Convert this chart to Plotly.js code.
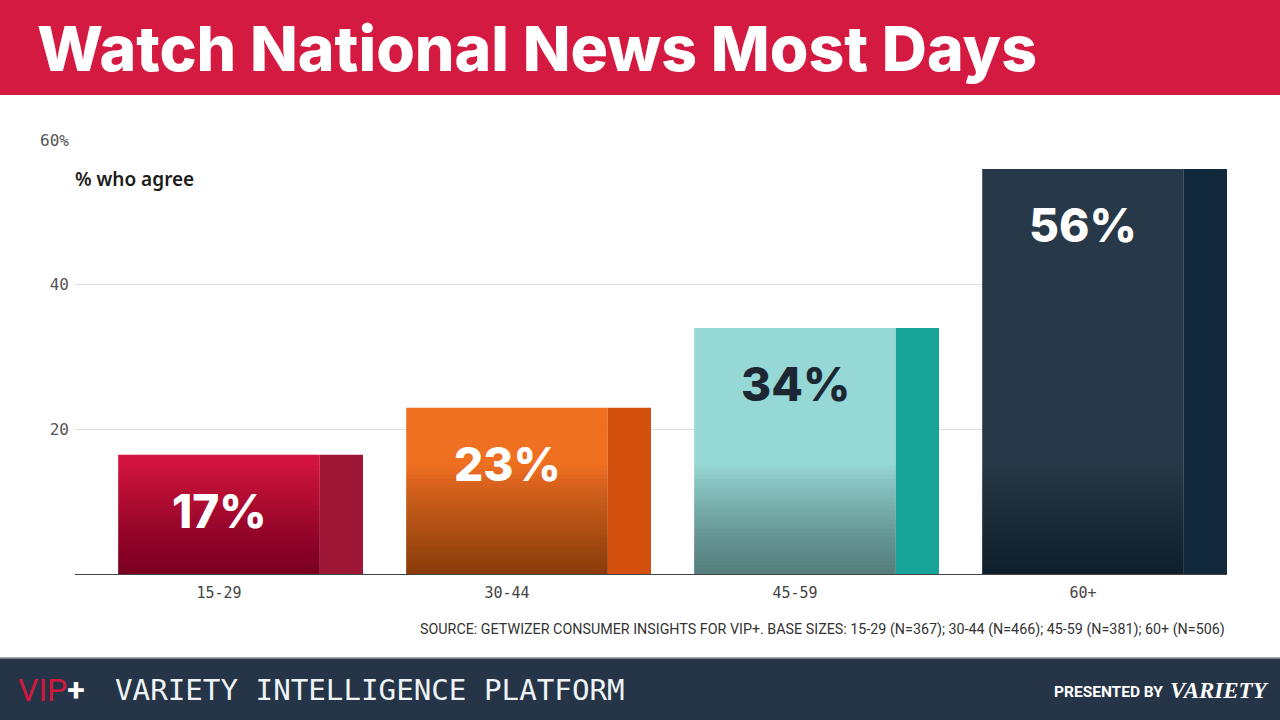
<!DOCTYPE html>
<html>
<head>
<meta charset="utf-8">
<script src="https://cdn.plot.ly/plotly-3.0.1.min.js"></script>
<style>html,body{margin:0;padding:0;background:#fff;}#chart{width:1280px;height:720px;}</style>
</head>
<body>
<div id="chart"></div>
<script>
const categories = ['15-29', '30-44', '45-59', '60+'];
const values = [16.5, 23, 34, 56];
const valueLabels = ['17%', '23%', '34%', '56%'];
const frontColors = ['#d31440', '#f07022', '#95d8d5', '#273848'];
const sideColors = ['#9e1737', '#d3500f', '#17a398', '#11293a'];
const labelColors = ['#ffffff', '#ffffff', '#1d2733', '#ffffff'];
const yTickVals = [20, 40, 60];
const yTickText = ['20', '40', '60%'];

const titleText = 'Watch National News Most Days';
const yLabel = '% who agree';
const sourceText = 'SOURCE: GETWIZER CONSUMER INSIGHTS FOR VIP+. BASE SIZES: 15-29 (N=367); 30-44 (N=466); 45-59 (N=381); 60+ (N=506)';

// layout geometry (pixels)
const L = 75, R = 53, T = 140, B = 146, W = 1280, H = 720;
const pw = W - L - R, ph = H - T - B;
const px2x = p => (p - L) / pw;
const py2y = p => (H - B - p) / ph;

const traces = [];
// front faces
traces.push({
  type: 'bar', x: categories, y: values, width: 0.7, offset: -0.35,
  marker: {color: frontColors, line: {width: 0}}, hoverinfo: 'skip', showlegend: false
});
// side faces
traces.push({
  type: 'bar', x: categories, y: values, width: 0.15, offset: 0.35,
  marker: {color: sideColors, line: {width: 0}}, hoverinfo: 'skip', showlegend: false
});
// bottom shading (decorative gradient on front faces)
const shadeSteps = 24, shadeDepth = 15;
const shadeColors = ['rgba(0,0,0,0.019)', 'rgba(0,0,0,0.019)', 'rgba(0,0,0,0.019)', 'rgba(0,0,0,0.014)'];
for (let k = 1; k <= shadeSteps; k++) {
  traces.push({
    type: 'bar', x: categories,
    y: values.map(v => Math.min(v, shadeDepth * k / shadeSteps)),
    width: 0.7, offset: -0.35,
    marker: {color: shadeColors, line: {width: 0}},
    hoverinfo: 'skip', showlegend: false
  });
}

const annotations = [];
categories.forEach((c, i) => {
  annotations.push({
    x: c, y: values[i], xref: 'x', yref: 'y', text: valueLabels[i],
    showarrow: false, yanchor: 'middle', xanchor: 'center', yshift: -56,
    font: {family: 'Inter, Noto Sans, sans-serif', size: 46, color: labelColors[i], weight: 800}
  });
});
annotations.push({
  xref: 'paper', yref: 'paper', x: px2x(35), y: py2y(48), xanchor: 'left', yanchor: 'middle',
  text: titleText, showarrow: false,
  font: {family: 'Inter, Noto Sans, sans-serif', size: 62.5, color: '#ffffff', weight: 800}
});
annotations.push({
  xref: 'paper', yref: 'paper', x: px2x(73), y: py2y(179), xanchor: 'left', yanchor: 'middle',
  text: yLabel, showarrow: false,
  font: {family: 'Noto Sans, sans-serif', size: 19, color: '#1c1c1c', weight: 600}
});
annotations.push({
  xref: 'paper', yref: 'paper', x: 1, y: py2y(629), xanchor: 'right', yanchor: 'middle',
  text: sourceText, showarrow: false,
  font: {family: 'Roboto, sans-serif', size: 14.3, color: '#333333'}
});
annotations.push({
  xref: 'paper', yref: 'paper', x: px2x(16), y: py2y(690), xanchor: 'left', yanchor: 'middle',
  text: '<span style="color:#d4173f">VIP</span><b>+</b>', showarrow: false,
  font: {family: 'Roboto, sans-serif', size: 32, color: '#ffffff'}
});
annotations.push({
  xref: 'paper', yref: 'paper', x: px2x(113), y: py2y(690), xanchor: 'left', yanchor: 'middle',
  text: 'VARIETY INTELLIGENCE PLATFORM', showarrow: false,
  font: {family: 'DejaVu Sans Mono, monospace', size: 29.2, color: '#eef3f6'}
});
annotations.push({
  xref: 'paper', yref: 'paper', x: px2x(1165), y: py2y(692), xanchor: 'right', yanchor: 'middle',
  text: '<b>PRESENTED BY</b>', showarrow: false,
  font: {family: 'Roboto, Noto Sans, sans-serif', size: 15.5, color: '#ffffff'}
});
annotations.push({
  xref: 'paper', yref: 'paper', x: px2x(1168), y: py2y(690), xanchor: 'left', yanchor: 'middle',
  text: '<b><i>VARIETY</i></b>', showarrow: false,
  font: {family: 'Liberation Serif, serif', size: 23, color: '#ffffff'}
});

const shapes = [
  {type: 'rect', xref: 'paper', yref: 'paper', x0: px2x(0), x1: px2x(W), y0: py2y(95), y1: py2y(0),
   fillcolor: '#d51a41', line: {width: 0}, layer: 'below'},
  {type: 'rect', xref: 'paper', yref: 'paper', x0: px2x(0), x1: px2x(W), y0: py2y(720), y1: py2y(658),
   fillcolor: '#253446', line: {width: 0}, layer: 'below'},
  {type: 'line', xref: 'paper', yref: 'paper', x0: px2x(0), x1: px2x(W), y0: py2y(658), y1: py2y(658),
   line: {width: 1.5, color: '#8c949e'}}
];

const layout = {
  width: W, height: H,
  margin: {l: L, r: R, t: T, b: B, pad: 0},
  paper_bgcolor: '#ffffff', plot_bgcolor: '#ffffff',
  barmode: 'overlay', hovermode: false, showlegend: false,
  xaxis: {
    type: 'category', range: [-0.5, 3.5], showgrid: false, zeroline: false,
    showline: true, linecolor: '#444444', linewidth: 1, ticks: '',
    tickfont: {family: 'DejaVu Sans Mono, monospace', size: 15, color: '#444444'},
    ticklabelstandoff: 5, fixedrange: true
  },
  yaxis: {
    range: [0, 60], tickvals: yTickVals, ticktext: yTickText,
    showgrid: true, gridcolor: '#dddddd', gridwidth: 1, zeroline: false, showline: false,
    ticks: '', tickfont: {family: 'DejaVu Sans Mono, monospace', size: 16, color: '#555555'},
    ticklabelstandoff: 5, fixedrange: true
  },
  annotations: annotations,
  shapes: shapes
};

Plotly.newPlot('chart', traces, layout, {displayModeBar: false, staticPlot: true});
</script>
</body>
</html>
